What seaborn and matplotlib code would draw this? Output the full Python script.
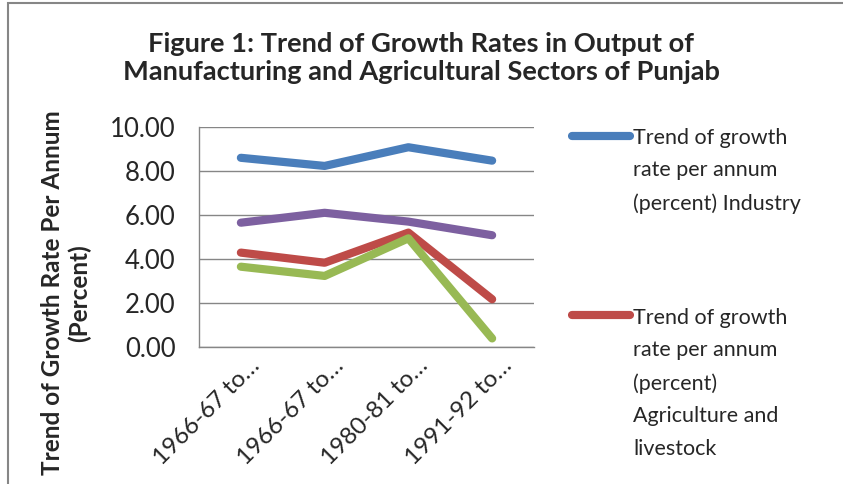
import matplotlib
matplotlib.use('Agg')
import matplotlib.pyplot as plt
import matplotlib.patches as mpatches
import matplotlib.transforms as mtransforms
import numpy as np
import pandas as pd
import seaborn as sns

# values
periods = ["1966-67 to…", "1966-67 to…", "1980-81 to…", "1991-92 to…"]
industry = [8.60, 8.23, 9.08, 8.47]
manufacturing = [5.65, 6.10, 5.70, 5.08]
agri_livestock = [4.29, 3.83, 5.20, 2.17]
crops = [3.65, 3.23, 4.94, 0.39]

series_names = ["Industry", "Manufacturing", "Agriculture and livestock", "Crops"]
series_colors = ["#4A7EBB", "#7D60A0", "#BE4B48", "#98B954"]
legend_labels = ["Trend of growth\nrate per annum\n(percent) Industry",
                 "Trend of growth\nrate per annum\n(percent)\nAgriculture and\nlivestock"]

rows = []
for name, vals in zip(series_names, [industry, manufacturing, agri_livestock, crops]):
    for i, v in enumerate(vals):
        rows.append({"period": i, "series": name, "rate": v})
df = pd.DataFrame(rows)

sns.set_theme(style="white")
plt.rcParams['font.family'] = ['Lato', 'DejaVu Sans']

fig = plt.figure(figsize=(8.43, 4.84), dpi=100)
ax = fig.add_axes([199 / 843, 1 - 347 / 484, 335 / 843, 220 / 484])

sns.lineplot(data=df, x="period", y="rate", hue="series", hue_order=series_names,
             palette=series_colors, linewidth=5.9, ax=ax, legend=False)
for ln in ax.lines:
    ln.set_solid_capstyle('round')
    ln.set_solid_joinstyle('round')

ax.set_xlim(-0.5, len(periods) - 0.5)
ax.set_ylim(0, 10)
yt = np.arange(0, 10.01, 2)
ax.set_yticks(yt)
ax.set_yticklabels([f"{v:.2f}" for v in yt], fontsize=18.5)
ax.set_xticks(range(len(periods)))
ax.set_xticklabels(periods, fontsize=17.5, rotation=45, ha='right',
                   va='center', rotation_mode='anchor')
ax.tick_params(axis='both', length=0)
ax.tick_params(axis='y', pad=17)
ax.tick_params(axis='x', pad=11)
shift = mtransforms.ScaledTranslation(0.16, 0, fig.dpi_scale_trans)
for lab in ax.get_xticklabels():
    lab.set_transform(lab.get_transform() + shift)

ax.grid(axis='y', color='#868686', linewidth=1)
ax.set_axisbelow(True)
for side in ['top', 'right']:
    ax.spines[side].set_visible(False)
for side in ['left', 'bottom']:
    ax.spines[side].set_color('#868686')
    ax.spines[side].set_linewidth(1)

ax.set_xlabel("")
ax.set_ylabel("Trend of Growth Rate Per Annum\n(Percent)", fontsize=17.5,
              fontweight='bold', linespacing=1.2)
ax.yaxis.label.set_va('center')
ax.yaxis.set_label_coords((66 - 199) / 335, (347 - 293) / 220)

fig.suptitle("Figure 1: Trend of Growth Rates in Output of\n"
             "Manufacturing and Agricultural Sectors of Punjab",
             fontsize=19.6, fontweight='bold', y=1 - 58 / 484, va='center',
             linespacing=1.15)

handles = [ax.lines[0], ax.lines[2]]
leg = fig.legend(handles, legend_labels, loc='upper left',
                 bbox_to_anchor=(572 / 843, 1 - 128 / 484), frameon=False,
                 prop={'size': 15.5}, handlelength=2.7, handletextpad=0.15,
                 borderpad=0, borderaxespad=0, labelspacing=4.35)
for txt in leg.get_texts():
    txt.set_linespacing(1.78)
for col in leg._legend_handle_box.get_children():
    for item in col.get_children():
        item.align = 'top'

# chart-area border (cut off at right and bottom in the reference)
fig.patches.append(mpatches.Rectangle((8 / 843, -0.2), 2, 1.2 - 3 / 484,
                                      transform=fig.transFigure, fill=False,
                                      edgecolor='#868686', linewidth=1.5))

fig.savefig("out.png", dpi=100)
